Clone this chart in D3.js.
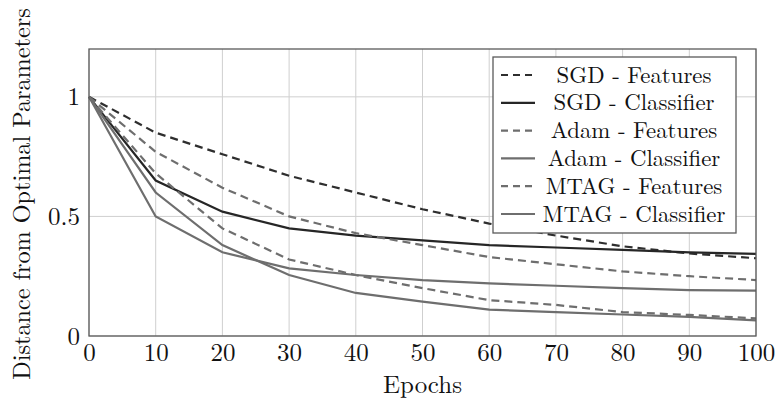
<!DOCTYPE html>
<html><head><meta charset="utf-8">
<script src="https://cdn.jsdelivr.net/npm/d3@7"></script>
<style>html,body{margin:0;padding:0;background:#fff;}svg{display:block;}</style>
</head><body><svg id="c" width="776" height="402"></svg>
<script>
const epochs = [0,10,20,30,40,50,60,70,80,90,100];
const sgdFeatures    = [1,0.85,0.76,0.67,0.60,0.53,0.47,0.42,0.375,0.345,0.325];
const sgdClassifier  = [1,0.65,0.52,0.45,0.42,0.40,0.38,0.37,0.36,0.35,0.343];
const adamFeatures   = [1,0.77,0.62,0.50,0.43,0.38,0.33,0.30,0.27,0.25,0.234];
const adamClassifier = [1,0.60,0.38,0.255,0.18,0.144,0.11,0.10,0.09,0.08,0.065];
const mtagFeatures   = [1,0.68,0.45,0.32,0.255,0.20,0.15,0.13,0.10,0.088,0.074];
const mtagClassifier = [1,0.50,0.35,0.283,0.255,0.234,0.22,0.21,0.20,0.192,0.19];
const seriesNames = ["SGD - Features","SGD - Classifier","Adam - Features","Adam - Classifier","MTAG - Features","MTAG - Classifier"];
const seriesValues = [sgdFeatures,sgdClassifier,adamFeatures,adamClassifier,mtagFeatures,mtagClassifier];
const seriesColors = ["#2e2e2e","#262626","#6e6e6e","#6e6e6e","#6e6e6e","#6e6e6e"];
const seriesDashed = [true,false,true,false,true,false];
const xTicks = [0,10,20,30,40,50,60,70,80,90,100];
const yTicks = [0,0.5,1];
const yTickLabels = ["0","0.5","1"];
const xTitle = "Epochs";
const yTitle = "Distance from Optimal Parameters";

const svg = d3.select("#c");
const L = 89, R = 756, T = 49, B = 336;
const FONT = "'Latin Modern Roman', 'Liberation Serif', serif";
const FS = 25, FSL = 22.8, FSY = 24.2;
const x = d3.scaleLinear().domain([0,100]).range([L,R]);
const y = d3.scaleLinear().domain([0,1.2]).range([B,T]);

// grid
const g = svg.append("g");
g.selectAll("line.vx").data(xTicks).join("line")
  .attr("x1",d=>x(d)).attr("x2",d=>x(d)).attr("y1",T).attr("y2",B)
  .attr("stroke","#cfcfcf").attr("stroke-width",1);
g.selectAll("line.hy").data(yTicks).join("line")
  .attr("y1",d=>y(d)).attr("y2",d=>y(d)).attr("x1",L).attr("x2",R)
  .attr("stroke","#cfcfcf").attr("stroke-width",1);

// lines
const line = d3.line().x((d,i)=>x(epochs[i])).y(d=>y(d));
seriesValues.forEach((vals,k)=>{
  svg.append("path").datum(vals).attr("d",line)
    .attr("fill","none").attr("stroke",seriesColors[k]).attr("stroke-width",2.2)
    .attr("stroke-dasharray",seriesDashed[k]?"8,5":null);
});

// frame
svg.append("rect").attr("x",L).attr("y",T).attr("width",R-L).attr("height",B-T)
  .attr("fill","none").attr("stroke","#5a5a5a").attr("stroke-width",1.3);

// axes labels via d3 axes
const xAxis = d3.axisBottom(x).tickValues(xTicks).tickSize(0).tickFormat(d3.format("d"));
const xa = svg.append("g").attr("transform",`translate(0,${B})`).call(xAxis);
xa.select(".domain").remove();
xa.selectAll("text").attr("y",25).attr("dy",0)
  .style("font-family",FONT).style("font-size",FS+"px").attr("fill","#111");

const yAxis = d3.axisLeft(y).tickValues(yTicks).tickSize(0).tickPadding(9).tickFormat((d,i)=>yTickLabels[i]);
const ya = svg.append("g").attr("transform",`translate(${L},0)`).call(yAxis);
ya.select(".domain").remove();
ya.selectAll("text").style("font-family",FONT).style("font-size",FS+"px").attr("fill","#111");

svg.append("text").attr("x",(L+R)/2).attr("y",393).attr("text-anchor","middle")
  .style("font-family",FONT).style("font-size",FS+"px").attr("fill","#111").text(xTitle);
svg.append("text").attr("transform",`translate(30,194) rotate(-90)`).attr("text-anchor","middle")
  .style("font-family",FONT).style("font-size",FSY+"px").attr("fill","#111").text(yTitle);

// legend
const lg = svg.append("g");
lg.append("rect").attr("x",493).attr("y",57).attr("width",243).attr("height",176)
  .attr("fill","#fff").attr("stroke","#5a5a5a").attr("stroke-width",1.3);
seriesNames.forEach((n,k)=>{
  const cy = 75 + k*27.8;
  lg.append("line").attr("x1",501).attr("x2",535).attr("y1",cy).attr("y2",cy)
    .attr("stroke",seriesColors[k]).attr("stroke-width",2.2)
    .attr("stroke-dasharray",seriesDashed[k]?"7,5":null);
  lg.append("text").attr("x",634).attr("y",cy+7.5).attr("text-anchor","middle")
    .style("font-family",FONT).style("font-size",FSL+"px").attr("fill","#111").text(n);
});
</script></body></html>
